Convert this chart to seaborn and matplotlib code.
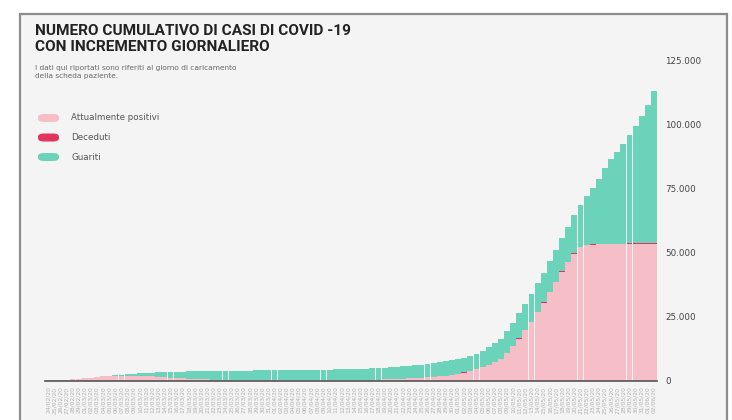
import matplotlib
matplotlib.use("Agg")
import matplotlib.pyplot as plt
from matplotlib.patches import Rectangle, FancyBboxPatch
from matplotlib.ticker import FuncFormatter
import seaborn as sns
import numpy as np
import pandas as pd

# giorni (etichette asse x)
giorni = [d.strftime("%d/%m/%y") for d in pd.date_range("2020-02-24", periods=100, freq="D")]

# valori
positivi = [200, 300, 400, 500, 700, 900, 1100, 1300, 1500, 1800,
            1900, 2000, 2100, 2100, 2100, 2000, 1900, 1800, 1600, 1500,
            1300, 1200, 1000, 900, 800, 700, 600, 500, 500, 400,
            400, 300, 300, 300, 200, 200, 200, 200, 200, 200,
            200, 200, 200, 200, 200, 200, 200, 300, 300, 300,
            300, 400, 400, 500, 500, 600, 700, 800, 900, 1000,
            1100, 1200, 1400, 1600, 1800, 2100, 2400, 2800, 3300, 3900,
            4600, 5400, 6300, 7300, 8500, 11000, 13500, 16500, 19800, 23000,
            26800, 30500, 34500, 38500, 42500, 46200, 49500, 52000, 52800, 53100,
            53200, 53200, 53300, 53300, 53300, 53400, 53400, 53400, 53500, 53500]

deceduti = [0, 0, 0, 0, 0, 0, 0, 0, 2, 2,
            3, 3, 5, 5, 7, 7, 8, 8, 8, 10,
            10, 10, 10, 10, 12, 12, 12, 12, 12, 12,
            12, 12, 12, 12, 13, 13, 13, 13, 13, 13,
            13, 13, 13, 13, 13, 13, 13, 13, 13, 15,
            15, 15, 15, 15, 15, 15, 17, 17, 17, 17,
            17, 17, 18, 18, 18, 20, 20, 22, 23, 25,
            28, 32, 35, 40, 45, 52, 58, 67, 77, 87,
            97, 108, 120, 132, 143, 155, 167, 178, 188, 198,
            208, 217, 225, 233, 242, 250, 258, 267, 275, 283]

guariti = [0, 0, 0, 0, 0, 0, 0, 0, 100, 100,
           200, 300, 400, 600, 800, 1100, 1300, 1500, 1800, 2000,
           2200, 2400, 2600, 2800, 2900, 3100, 3200, 3300, 3400, 3500,
           3500, 3700, 3700, 3700, 3900, 3900, 3900, 3900, 4000, 4000,
           4000, 4000, 4100, 4100, 4100, 4100, 4200, 4200, 4200, 4300,
           4300, 4300, 4400, 4400, 4500, 4500, 4600, 4700, 4800, 4900,
           5000, 5100, 5200, 5300, 5400, 5500, 5600, 5700, 5800, 5900,
           6000, 6300, 6800, 7400, 8000, 8600, 9200, 9800, 10300, 10800,
           11200, 11600, 12000, 12400, 12900, 13600, 14800, 16500, 19000, 22000,
           25200, 29500, 32800, 35800, 38800, 42000, 45600, 49400, 53700, 59200]

serie = ["Attualmente positivi", "Deceduti", "Guariti"]
colori = ["#f6bfc8", "#e2335f", "#6cd3bb"]
yticks = [0, 25000, 50000, 75000, 100000, 125000]

df = pd.DataFrame({"giorno": giorni, "positivi": positivi,
                   "deceduti": deceduti, "guariti": guariti})
# livelli per le barre sovrapposte
df["liv_dec"] = df["positivi"] + df["deceduti"]
df["liv_tot"] = df["liv_dec"] + df["guariti"]

sns.set_style("white")
plt.rcParams["font.family"] = ["DejaVu Sans"]

W, H = 732, 420
fig = plt.figure(figsize=(W / 100, H / 100), dpi=100)
fig.patch.set_facecolor("white")
fig.add_artist(Rectangle((20 / W, -0.01), (727 - 20) / W, (420 - 14) / H + 0.01,
                         transform=fig.transFigure, facecolor="#f4f4f4",
                         edgecolor="#8c8c8c", lw=1.6, zorder=0))

ax = fig.add_axes([45 / W, (H - 381) / H, (657 - 45) / W, (381 - 60) / H])
ax.set_facecolor("none")

for col, c in zip(["liv_tot", "liv_dec", "positivi"], [colori[2], colori[1], colori[0]]):
    sns.barplot(data=df, x="giorno", y=col, color=c, saturation=1,
                width=0.96, linewidth=0, ax=ax)

ax.set_xlim(-0.5, len(giorni) - 0.5)
ax.set_ylim(0, 125000)
ax.set_xlabel("")
ax.set_ylabel("")
for s in ["top", "left", "right"]:
    ax.spines[s].set_visible(False)
ax.spines["bottom"].set_color("#555555")
ax.spines["bottom"].set_linewidth(1.2)

ax.yaxis.tick_right()
ax.set_yticks(yticks)
ax.yaxis.set_major_formatter(FuncFormatter(lambda v, p: f"{int(v):,}".replace(",", ".")))
ax.tick_params(axis="y", length=0, pad=6, labelsize=6.3, labelcolor="#444444")
ax.tick_params(axis="x", length=0, pad=4, labelsize=4.3, labelcolor="#b0b0b0", rotation=90)

# titolo e sottotitolo
tit = dict(family=["Roboto", "DejaVu Sans"], weight="bold",
           color="#222222", fontsize=11.1, va="center")
fig.text(35 / W, 1 - 31 / H, "NUMERO CUMULATIVO DI CASI DI COVID -19", **tit)
fig.text(35 / W, 1 - 47 / H, "CON INCREMENTO GIORNALIERO", **tit)
fig.text(35 / W, 1 - 65 / H,
         "I dati qui riportati sono riferiti al giorno di caricamento\ndella scheda paziente.",
         fontsize=5.3, color="#666666", va="top", linespacing=1.35)

# legenda
for k, (lab, c) in enumerate(zip(serie, colori)):
    yc = 1 - (118 + 19.5 * k) / H
    fig.add_artist(FancyBboxPatch((38 / W, yc - 4 / H), 21 / W, 8 / H,
                                  boxstyle="round,pad=0,rounding_size=0.008",
                                  transform=fig.transFigure, facecolor=c,
                                  edgecolor="none"))
    fig.text(71 / W, yc, lab, fontsize=6.3, color="#555555", va="center")

fig.savefig("out.png", dpi=100)
